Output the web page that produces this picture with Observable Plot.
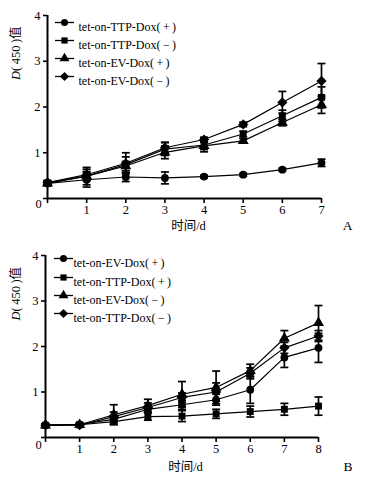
<!DOCTYPE html>
<html><head><meta charset="utf-8">
<script src="https://cdn.jsdelivr.net/npm/d3@7"></script>
<script src="https://cdn.jsdelivr.net/npm/@observablehq/plot@0.6"></script>
<style>body{margin:0;background:#fff} #wrap{width:383px} svg{display:block}</style>
</head><body><div id="wrap"></div>
<script>
// ---------- Panel A data ----------
const daysA = [0, 1, 2, 3, 4, 5, 6, 7];
const seriesA = ["tet-on-TTP-Dox(\u2009+\u2009)", "tet-on-TTP-Dox(\u2009−\u2009)", "tet-on-EV-Dox(\u2009+\u2009)", "tet-on-EV-Dox(\u2009−\u2009)"];
const ttpPlusA    = [0.33, 0.41, 0.47, 0.45, 0.48, 0.52, 0.63, 0.78];
const ttpPlusErrA = [0.05, 0.16, 0.10, 0.13, 0.03, 0.03, 0.03, 0.08];
const ttpMinusA    = [0.34, 0.49, 0.74, 1.08, 1.17, 1.41, 1.81, 2.21];
const ttpMinusErrA = [0.05, 0.19, 0.17, 0.14, 0.15, 0.06, 0.12, 0.23];
const evPlusA    = [0.33, 0.49, 0.71, 1.01, 1.15, 1.26, 1.66, 2.05];
const evPlusErrA = [0.04, 0.10, 0.10, 0.14, 0.08, 0.05, 0.07, 0.19];
const evMinusA    = [0.35, 0.52, 0.77, 1.11, 1.29, 1.62, 2.10, 2.57];
const evMinusErrA = [0.04, 0.12, 0.23, 0.12, 0.05, 0.05, 0.24, 0.38];

// ---------- Panel B data ----------
const daysB = [0, 1, 2, 3, 4, 5, 6, 7, 8];
const seriesB = ["tet-on-EV-Dox(\u2009+\u2009)", "tet-on-TTP-Dox(\u2009+\u2009)", "tet-on-EV-Dox(\u2009−\u2009)", "tet-on-TTP-Dox(\u2009−\u2009)"];
const evPlusB    = [0.27, 0.29, 0.40, 0.62, 0.72, 0.83, 1.05, 1.76, 1.97];
const evPlusErrB = [0.03, 0.03, 0.08, 0.08, 0.10, 0.12, 0.30, 0.22, 0.32];
const ttpPlusB    = [0.27, 0.28, 0.35, 0.46, 0.47, 0.52, 0.57, 0.62, 0.69];
const ttpPlusErrB = [0.03, 0.03, 0.06, 0.08, 0.12, 0.10, 0.12, 0.13, 0.20];
const evMinusB    = [0.27, 0.28, 0.50, 0.70, 0.95, 1.10, 1.47, 2.18, 2.52];
const evMinusErrB = [0.03, 0.03, 0.22, 0.14, 0.28, 0.36, 0.14, 0.17, 0.38];
const ttpMinusB    = [0.27, 0.27, 0.46, 0.66, 0.88, 1.00, 1.41, 1.97, 2.23];
const ttpMinusErrB = [0.03, 0.03, 0.10, 0.10, 0.10, 0.20, 0.12, 0.12, 0.12];

const yTicks = [1, 2, 3, 4];
const xLabel = "时间/d";
const yLabel = "D(\u2009450\u2009)值";
const symbolNames = ["circle", "square", "triangle", "diamond2"];
const symbolR = [3.9, 3.9, 4.1, 4.6];

const FONT = "'Liberation Serif', 'Noto Sans CJK SC', serif";

const capSym = {draw(ctx) { ctx.moveTo(-4, 0); ctx.lineTo(4, 0); }};
const legLineSym = {draw(ctx) { ctx.moveTo(-9.5, 0); ctx.lineTo(9.5, 0); }};

function build(cfg) {
  const rows = [];
  cfg.series.forEach((s, i) => cfg.values[i].forEach((v, j) =>
    rows.push({day: cfg.days[j], v, e: cfg.errs[i][j], s, k: i})));
  const marks = [
    Plot.ruleY([0], {strokeWidth: 2}),
    Plot.ruleX([0], {strokeWidth: 2}),
    Plot.axisX({ticks: cfg.days, tickFormat: d => d === 0 ? "" : d, tickSize: 5, tickPadding: 2, strokeWidth: 1.6, fontSize: 12.5, label: null}),
    Plot.axisY({ticks: [0, ...yTicks], tickFormat: d => d === 0 ? "" : d, tickSize: 4, tickPadding: 3, strokeWidth: 1.6, fontSize: 12.5, label: null}),
    Plot.text(["0"], {frameAnchor: "bottom-left", text: d => d, dx: cfg.zeroDx, dy: cfg.zeroDy, fontSize: 12.5}),
    Plot.line(rows, {x: "day", y: "v", z: "s", stroke: "black", strokeWidth: 1.2}),
    Plot.ruleX(rows, {x: "day", y1: d => d.v - d.e, y2: d => d.v + d.e, stroke: "black", strokeWidth: 1.7}),
    Plot.dot(rows, {x: "day", y: d => d.v + d.e, symbol: capSym, fill: "none", stroke: "black", strokeWidth: 1.7}),
    Plot.dot(rows, {x: "day", y: d => d.v - d.e, symbol: capSym, fill: "none", stroke: "black", strokeWidth: 1.7})
  ];
  cfg.series.forEach((s, i) => {
    marks.push(Plot.dot(rows.filter(r => r.k === i), {x: "day", y: "v", symbol: symbolNames[i], r: symbolR[i], fill: "black", stroke: "none"}));
    const dy = cfg.legDy[i];
    marks.push(Plot.dot([s], {frameAnchor: "top-left", dx: cfg.legSymDx, dy, symbol: legLineSym, fill: "none", stroke: "black", strokeWidth: 1.3}));
    marks.push(Plot.dot([s], {frameAnchor: "top-left", dx: cfg.legSymDx, dy, symbol: symbolNames[i], r: symbolR[i] * 0.9, fill: "black", stroke: "none"}));
    marks.push(Plot.text([s], {frameAnchor: "top-left", text: d => d, dx: cfg.legTextDx, dy, textAnchor: "start", fontSize: 12}));
  });
  marks.push(Plot.text([xLabel], {frameAnchor: "bottom", text: d => d, dx: cfg.xlDx, dy: cfg.xlDy, fontSize: 12.5}));
  marks.push(Plot.text([yLabel], {frameAnchor: "left", text: d => d, dx: cfg.ylDx, dy: cfg.ylDy, rotate: -90, fontSize: 12.5}));
  marks.push(Plot.text([cfg.letter], {frameAnchor: "bottom-right", text: d => d, dx: cfg.letDx, dy: cfg.letDy, fontSize: 13.5}));

  const svg = Plot.plot({
    width: 383, height: 241,
    marginLeft: cfg.ml, marginRight: cfg.mr, marginTop: cfg.mt, marginBottom: cfg.mb,
    x: {domain: [cfg.days[0], cfg.days[cfg.days.length - 1]]},
    y: {domain: [0, 4]},
    style: {fontFamily: FONT, fontSize: "12px", color: "black", background: "white", overflow: "visible"},
    marks
  });
  d3.select(svg).selectAll("text").filter(function() { return this.textContent === yLabel; })
    .each(function() {
      const t = d3.select(this);
      t.text(null);
      t.append("tspan").attr("font-style", "italic").text("D");
      t.append("tspan").text(yLabel.slice(1));
    });
  return svg;
}

const wrap = document.getElementById("wrap");
wrap.append(build({
  days: daysA, series: seriesA,
  values: [ttpPlusA, ttpMinusA, evPlusA, evMinusA],
  errs: [ttpPlusErrA, ttpMinusErrA, evPlusErrA, evMinusErrA],
  ml: 47, mr: 62, mt: 15, mb: 43,
  zeroDx: -12, zeroDy: 9,
  legDy: [7, 25, 43, 61], legSymDx: 17, legTextDx: 31,
  xlDx: 4, xlDy: 31, ylDx: -32, ylDy: -27, letter: "A", letDx: 31, letDy: 31
}));
wrap.append(build({
  days: daysB, series: seriesB,
  values: [evPlusB, ttpPlusB, evMinusB, ttpMinusB],
  errs: [evPlusErrB, ttpPlusErrB, evMinusErrB, ttpMinusErrB],
  ml: 45, mr: 65, mt: 14, mb: 45,
  zeroDx: -10, zeroDy: 11,
  legDy: [3, 22, 40, 58], legSymDx: 18, legTextDx: 28,
  xlDx: 3.5, xlDy: 33, ylDx: -30, ylDy: -26, letter: "B", letDx: 34, letDy: 33
}));
</script></body></html>
